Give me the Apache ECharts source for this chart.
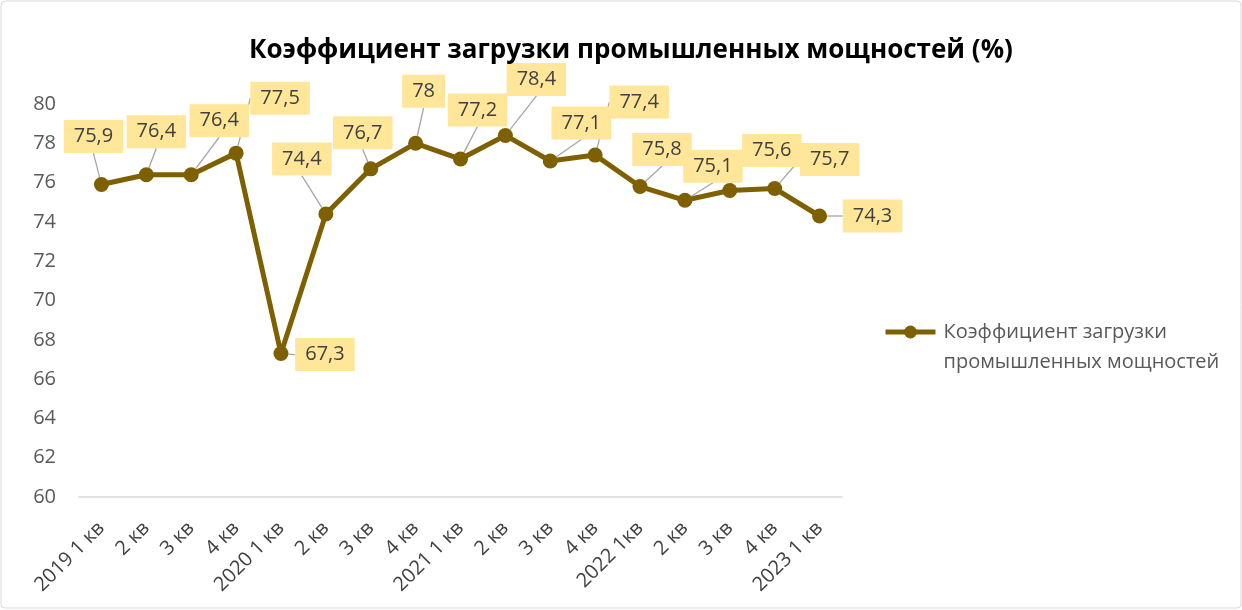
<!DOCTYPE html>
<html>
<head>
<meta charset="utf-8">
<script src="https://cdn.jsdelivr.net/npm/echarts@6/dist/echarts.min.js"></script>
<style>
  html, body { margin: 0; padding: 0; background: #ffffff; }
  #main { width: 1242px; height: 610px; }
</style>
</head>
<body>
<div id="main"></div>
<script>
// категории и значения
var categories = ['2019 1 кв', '2 кв', '3 кв', '4 кв', '2020 1 кв', '2 кв', '3 кв', '4 кв',
    '2021 1 кв', '2 кв', '3 кв', '4 кв', '2022 1кв', '2 кв', '3 кв', '4 кв', '2023 1 кв'];
var values = [75.9, 76.4, 76.4, 77.5, 67.3, 74.4, 76.7, 78, 77.2, 78.4, 77.1, 77.4, 75.8, 75.1, 75.6, 75.7, 74.3];
var seriesName = 'Коэффициент загрузки промышленных мощностей';

// смещения подписей относительно точек (px)
var labelShift = [[-8, -48], [10, -43], [28, -54], [44, -55], [44, 1], [-24, -55], [-8, -36], [8, -52],
    [17, -49], [31, -56], [31, -38], [44, -53], [22, -37], [28, -34], [42, -40], [55, -29], [53, 0]];

var font = 'Open Sans';
var myChart = echarts.init(document.getElementById('main'));

var option = {
    animation: false,
    backgroundColor: '#ffffff',
    title: {
        text: 'Коэффициент загрузки промышленных мощностей (%)',
        left: 244,
        top: 33,
        textStyle: {fontFamily: font, fontWeight: 'bold', fontSize: 26, color: '#000000'}
    },
    legend: {
        orient: 'vertical',
        left: 878,
        top: 282,
        itemWidth: 50,
        itemHeight: 16,
        itemGap: 4,
        lineStyle: {width: 5},
        formatter: function () { return ' \nКоэффициент загрузки\nпромышленных мощностей'; },
        textStyle: {fontFamily: font, fontSize: 20, color: '#595959', lineHeight: 30, padding: [0, 0, 0, 3]},
        data: [seriesName]
    },
    grid: {left: 79, right: 400, top: 104, bottom: 113},
    xAxis: {
        type: 'category',
        data: categories,
        axisLine: {lineStyle: {color: '#d9d9d9', width: 1.5}},
        axisTick: {show: false},
        axisLabel: {rotate: 45, interval: 0, fontFamily: font, fontSize: 20, color: '#404040', margin: 28}
    },
    yAxis: {
        type: 'value',
        min: 60,
        max: 80,
        interval: 2,
        splitLine: {show: false},
        axisLine: {show: false},
        axisTick: {show: false},
        axisLabel: {fontFamily: font, fontSize: 20, color: '#595959', margin: 23}
    },
    series: [{
        name: seriesName,
        type: 'line',
        data: values,
        symbol: 'circle',
        symbolSize: 15,
        lineStyle: {color: '#7f6000', width: 5},
        itemStyle: {color: '#7f6000'},
        label: {
            show: true,
            position: 'inside',
            formatter: function (p) { return String(p.value).replace('.', ','); },
            fontFamily: font,
            fontSize: 20,
            color: '#404040',
            backgroundColor: '#ffe699',
            padding: [7, 10, 6, 10]
        },
        labelLine: {show: true, lineStyle: {color: '#a6a6a6', width: 1.3}},
        labelLayout: function (p) {
            var s = labelShift[p.dataIndex];
            return {dx: s[0], dy: s[1]};
        }
    }],
    graphic: [{
        type: 'rect',
        shape: {x: 1, y: 1, width: 1240, height: 607, r: 4},
        style: {fill: 'none', stroke: '#d9d9d9', lineWidth: 1},
        silent: true
    }]
};

myChart.setOption(option);
</script>
</body>
</html>
